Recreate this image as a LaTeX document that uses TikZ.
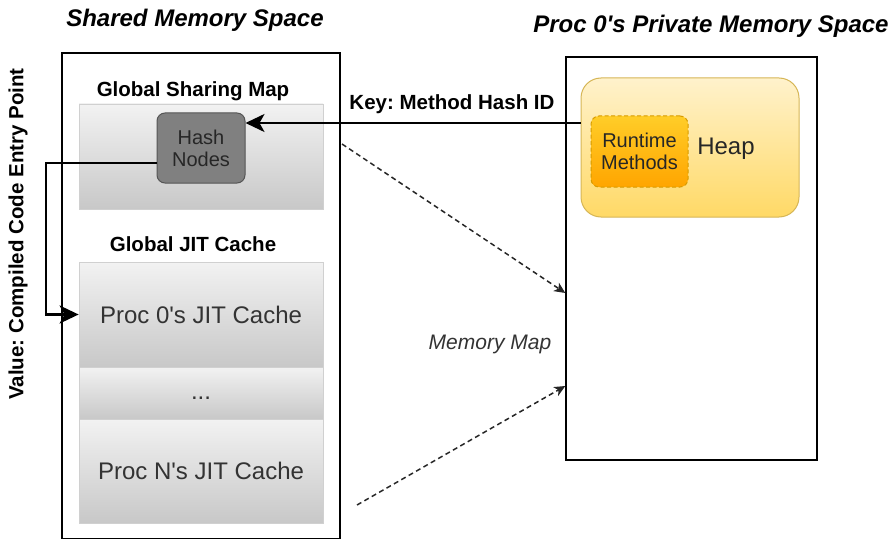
\documentclass[tikz,border=0pt]{standalone}
\usepackage{fontspec}
\setmainfont{Liberation Sans}[Ligatures=TeXOff]
\usetikzlibrary{arrows.meta}
\frenchspacing
\definecolor{secborder}{HTML}{D0D0D0}
\definecolor{sectop}{HTML}{F2F2F2}
\definecolor{secbot}{HTML}{C8C8C8}
\definecolor{hashfill}{HTML}{808080}
\definecolor{hashborder}{HTML}{555555}
\definecolor{heaptop}{HTML}{FFF2CC}
\definecolor{heapbot}{HTML}{FFD966}
\definecolor{heapborder}{HTML}{D6B656}
\definecolor{rttop}{HTML}{FFCD28}
\definecolor{rtbot}{HTML}{FFA500}
\definecolor{rtborder}{HTML}{D79B00}
\definecolor{txt}{HTML}{333333}
\begin{document}
\begin{tikzpicture}[x=1pt,y=-1pt,
  spacebox/.style={draw=black,line width=1.4pt,fill=white},
  secbox/.style={draw=secborder,line width=0.8pt,top color=sectop,bottom color=secbot,inner sep=0pt},
  boldlbl/.style={font=\fontsize{20.5}{24}\selectfont\bfseries,text=black,inner sep=0pt},
  titlelbl/.style={font=\fontsize{24}{28}\selectfont\bfseries\itshape,text=black,inner sep=0pt},
  seclbl/.style={font=\fontsize{24}{28}\selectfont,text=txt,inner sep=0pt},
  smalllbl/.style={font=\fontsize{20}{22}\selectfont,text=txt,inner sep=0pt,align=center},
  bigarrow/.style={draw=black,line width=2.3pt,-{Stealth[length=19pt,width=18pt,inset=5pt]}},
  dasharrow/.style={draw=black!85,line width=1.5pt,dash pattern=on 5pt off 3.5pt,-{Stealth[length=11pt,width=10pt,inset=3pt]}}
]
\useasboundingbox (0,0) rectangle (893,540);

% Titles
\node[titlelbl] (t1) at (195,20) {Shared Memory Space};
\node[titlelbl] (t2) at (711,26) {Proc 0's Private Memory Space};

% Shared memory outer box
\draw[spacebox] (62,53) rectangle (340,538.5);
\node[inner sep=0pt,minimum width=278pt,minimum height=485pt] (shared) at (201,296) {};

% Global sharing map
\node[boldlbl] (gsmlbl) at (193,91) {Global Sharing Map};
\node[secbox,minimum width=244pt,minimum height=105pt] (gsm) at (201,156.5) {};
\node[draw=hashborder,line width=1pt,fill=hashfill,rounded corners=8pt,
      minimum width=88pt,minimum height=70pt,inner sep=0pt,smalllbl,text=black!85] (hash) at (201,148) {Hash\\Nodes};

% Global JIT cache
\node[boldlbl] (gjclbl) at (193,244) {Global JIT Cache};
\node[secbox,minimum width=244pt,minimum height=105pt,seclbl] (p0) at (201,314.5) {Proc 0's JIT Cache};
\node[secbox,minimum width=244pt,minimum height=52pt,seclbl] (dots) at (201,393) {\raisebox{-6pt}[0pt][0pt]{...}};
\node[secbox,minimum width=244pt,minimum height=104pt,seclbl] (pn) at (201,471) {Proc N's JIT Cache};

% Private memory box
\node[spacebox,minimum width=251pt,minimum height=403pt,inner sep=0pt] (priv) at (691.5,258.5) {};
\node[draw=heapborder,line width=1pt,top color=heaptop,bottom color=heapbot,rounded corners=20pt,
      minimum width=218pt,minimum height=139pt,inner sep=0pt] (heap) at (690,147.5) {};
\node[seclbl,text=black!85] (heaplbl) at (726,149) {Heap};
\node[draw=rtborder,line width=1pt,dash pattern=on 4pt off 2.5pt,top color=rttop,bottom color=rtbot,rounded corners=8pt,
      minimum width=97pt,minimum height=71pt,inner sep=0pt,smalllbl,text=black!85] (rt) at (639.5,151.5) {Runtime\\Methods};

% Key arrow
\coordinate (keystart) at (heap.west |- 0,123);
\draw[bigarrow] (keystart) -- (hash.east |- keystart);
\node[boldlbl] (keylbl) at (452,104) {Key: Method Hash ID};

% Value arrow
\coordinate (vstart) at ([yshift=-15pt]hash.west);
\coordinate (vbend) at (46,163);
\draw[bigarrow] (vstart) -- (vbend) |- (p0.west);
\node[boldlbl,rotate=90] (vallbl) at (18,234) {Value: Compiled Code Entry Point};

% Memory map arrows
\coordinate (mm1s) at (342,144);
\coordinate (mm1e) at (priv.west |- 0,293);
\coordinate (mm2s) at (357,505);
\coordinate (mm2e) at (priv.west |- 0,386);
\draw[dasharrow] (mm1s) -- (mm1e);
\draw[dasharrow] (mm2s) -- (mm2e);
\node[font=\fontsize{21}{24}\selectfont\itshape,text=txt,inner sep=0pt] (mmlbl) at (490,344) {Memory Map};
\end{tikzpicture}
\end{document}
